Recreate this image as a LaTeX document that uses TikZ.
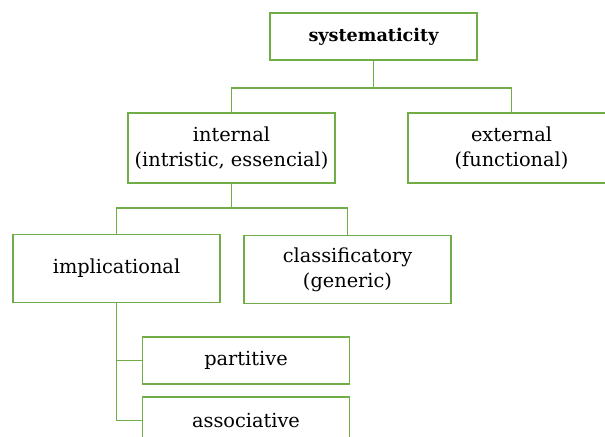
\documentclass[tikz,border=0pt]{standalone}
\usepackage{fontspec}
\setmainfont{DejaVu Serif}
\definecolor{boxgreen}{RGB}{112,173,71}
\begin{document}
\begin{tikzpicture}[x={(0.75pt,0)},y={(0,-0.75pt)},
  box/.style={draw=boxgreen,line width=1.1pt,fill=white,inner sep=0pt,align=center,
    font=\fontsize{14.5}{18.75}\selectfont,minimum width=207*0.75pt},
  link/.style={draw=boxgreen,line width=1.1pt}]
\useasboundingbox (0,0) rectangle (605,436);
\clip (0,0) rectangle (605,436);
\node[box,minimum height=47*0.75pt,font=\fontsize{13.2}{18.75}\selectfont\bfseries] (sys) at (373.5,36.5) {systematicity};
\node[box,minimum height=70*0.75pt] (int) at (231.5,148) {internal\\(intristic, essencial)};
\node[box,minimum height=70*0.75pt] (ext) at (511.5,148) {external\\(functional)};
\node[box,minimum height=68*0.75pt] (imp) at (116.5,268.5) {implicational};
\node[box,minimum height=68*0.75pt] (cla) at (347.5,269.5) {classificatory\\(generic)};
\node[box,minimum height=47*0.75pt] (par) at (246,360.5) {partitive};
\node[box,minimum height=47*0.75pt] (ass) at (246,420.5) {associative};
\coordinate (j1) at (373.5,88);
\coordinate (j2) at (231.5,208);
\draw[link] (sys.south) -- (j1) -| (int.north);
\draw[link] (j1) -| (ext.north);
\draw[link] (int.south) -- (j2) -| (imp.north);
\draw[link] (j2) -| (cla.north);
\draw[link] (imp.south) |- (par.west);
\draw[link] (imp.south) |- (ass.west);
\end{tikzpicture}
\end{document}
